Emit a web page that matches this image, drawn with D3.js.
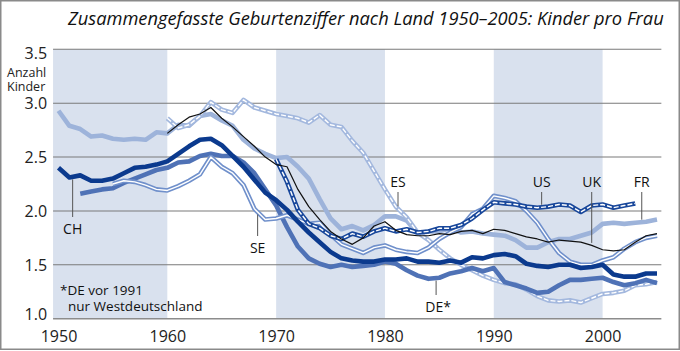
<!DOCTYPE html>
<html>
<head>
<meta charset="utf-8">
<script src="https://cdn.jsdelivr.net/npm/d3@7"></script>
<style>
  html, body { margin: 0; padding: 0; background: #fff; }
  svg { display: block; font-family: "Open Sans", sans-serif; }
</style>
</head>
<body>
<svg width="680" height="351"></svg>
<script>
// total fertility rate, children per woman
const years = [1950, 1951, 1952, 1953, 1954, 1955, 1956, 1957, 1958, 1959,
  1960, 1961, 1962, 1963, 1964, 1965, 1966, 1967, 1968, 1969,
  1970, 1971, 1972, 1973, 1974, 1975, 1976, 1977, 1978, 1979,
  1980, 1981, 1982, 1983, 1984, 1985, 1986, 1987, 1988, 1989,
  1990, 1991, 1992, 1993, 1994, 1995, 1996, 1997, 1998, 1999,
  2000, 2001, 2002, 2003, 2004, 2005];

// from 1950
const fr = [2.93, 2.79, 2.76, 2.69, 2.70, 2.67, 2.66, 2.67, 2.66, 2.73,
  2.72, 2.80, 2.79, 2.88, 2.90, 2.84, 2.79, 2.66, 2.58, 2.53,
  2.49, 2.50, 2.41, 2.30, 2.11, 1.93, 1.83, 1.86, 1.82, 1.87,
  1.95, 1.95, 1.91, 1.79, 1.81, 1.81, 1.84, 1.80, 1.81, 1.79,
  1.78, 1.77, 1.73, 1.66, 1.66, 1.71, 1.74, 1.74, 1.77, 1.80,
  1.88, 1.89, 1.88, 1.89, 1.90, 1.92];
// from 1950
const ch = [2.40, 2.31, 2.33, 2.28, 2.28, 2.30, 2.35, 2.40, 2.41, 2.43,
  2.46, 2.53, 2.60, 2.66, 2.67, 2.61, 2.51, 2.41, 2.29, 2.17,
  2.10, 2.01, 1.90, 1.80, 1.71, 1.62, 1.56, 1.54, 1.53, 1.53,
  1.55, 1.55, 1.56, 1.53, 1.53, 1.52, 1.54, 1.52, 1.57, 1.56,
  1.59, 1.60, 1.58, 1.51, 1.49, 1.48, 1.50, 1.50, 1.47, 1.48,
  1.50, 1.41, 1.39, 1.39, 1.42, 1.42];
// from 1952
const de = [2.16, 2.18, 2.20, 2.21, 2.26, 2.30, 2.34, 2.38,
  2.40, 2.45, 2.46, 2.51, 2.53, 2.51, 2.51, 2.45, 2.35, 2.20,
  2.05, 1.85, 1.67, 1.56, 1.51, 1.48, 1.50, 1.48, 1.49, 1.50,
  1.53, 1.51, 1.45, 1.40, 1.37, 1.38, 1.42, 1.44, 1.47, 1.44,
  1.47, 1.34, 1.31, 1.28, 1.24, 1.25, 1.31, 1.36, 1.36, 1.37,
  1.38, 1.34, 1.31, 1.33, 1.36, 1.33];
// from 1955
const se = [2.25, 2.28, 2.27, 2.24, 2.20,
  2.19, 2.23, 2.28, 2.34, 2.50, 2.41, 2.35, 2.24, 2.02, 1.92,
  1.93, 1.96, 1.92, 1.88, 1.89, 1.78, 1.69, 1.65, 1.61, 1.66,
  1.68, 1.64, 1.62, 1.61, 1.66, 1.74, 1.80, 1.85, 1.97, 2.02,
  2.14, 2.12, 2.09, 2.00, 1.89, 1.74, 1.61, 1.53, 1.50, 1.50,
  1.54, 1.57, 1.65, 1.71, 1.75, 1.77];
// from 1960
const es = [2.86, 2.77, 2.80, 2.88, 3.01, 2.94, 2.91, 3.03, 2.96, 2.93,
  2.90, 2.88, 2.86, 2.82, 2.89, 2.80, 2.78, 2.65, 2.54, 2.37,
  2.20, 2.04, 1.94, 1.80, 1.73, 1.64, 1.56, 1.50, 1.45, 1.40,
  1.36, 1.33, 1.32, 1.27, 1.21, 1.17, 1.16, 1.17, 1.15, 1.19,
  1.23, 1.24, 1.26, 1.31, 1.32, 1.34];
// from 1960
const uk = [2.72, 2.80, 2.87, 2.90, 2.96, 2.86, 2.78, 2.69, 2.60, 2.50,
  2.43, 2.41, 2.20, 2.04, 1.92, 1.81, 1.74, 1.69, 1.75, 1.86,
  1.90, 1.82, 1.78, 1.77, 1.77, 1.79, 1.78, 1.81, 1.82, 1.79,
  1.83, 1.82, 1.79, 1.76, 1.74, 1.71, 1.73, 1.72, 1.71, 1.68,
  1.64, 1.63, 1.64, 1.71, 1.77, 1.79];
// from 1970 to 2003
const us = [2.48, 2.27, 2.01, 1.88, 1.84, 1.77, 1.74, 1.79, 1.76, 1.81,
  1.84, 1.81, 1.83, 1.80, 1.81, 1.84, 1.84, 1.87, 1.93, 2.01,
  2.08, 2.07, 2.06, 2.04, 2.03, 2.04, 2.06, 2.05, 1.99, 2.05,
  2.06, 2.03, 2.05, 2.07];

const yTicks = [1.0, 1.5, 2.0, 2.5, 3.0, 3.5];
const xTicks = [1950, 1960, 1970, 1980, 1990, 2000];
const bands = [[1949.5, 1960], [1970, 1980], [1990, 2000]];

const svg = d3.select("svg");
const width = +svg.attr("width");
const height = +svg.attr("height");

const x = d3.scaleLinear().domain([1950, 2005]).range([58.5, 657]);
const y = d3.scaleLinear().domain([1, 3.5]).range([318.7, 49.3]);
const left = x(1949.5);
const right = x(2005.4);

const toPoints = (vals, start) =>
  vals.map((v, i) => ({ year: years[years.indexOf(start) + i], value: v }));

const series = [
  { key: "FR", data: toPoints(fr, 1950), color: "#9db3da", w: 4.6 },
  { key: "ES", data: toPoints(es, 1960), color: "#a3b8de", w: 4.6, inner: "5,2" },
  { key: "DE", data: toPoints(de, 1952), color: "#4f72b6", w: 4.6 },
  { key: "SE", data: toPoints(se, 1955), color: "#7090cb", w: 4.6, inner: "none" },
  { key: "CH", data: toPoints(ch, 1950), color: "#0b3a8e", w: 4.6 },
  { key: "US", data: toPoints(us, 1970), color: "#18479b", w: 4.6, inner: "5,2" },
  { key: "UK", data: toPoints(uk, 1960), color: "#111", w: 1.2 }
];

// frame
svg.append("rect")
  .attr("x", 0.75).attr("y", 0.75)
  .attr("width", width - 1.5).attr("height", height - 2.5)
  .attr("fill", "none").attr("stroke", "#8a8a8a").attr("stroke-width", 1.5);

// title, font size fitted to the reference width
const title = svg.append("text")
  .attr("x", 68).attr("y", 25)
  .style("font-size", "19px").style("font-style", "italic")
  .attr("fill", "#111")
  .text("Zusammengefasste Geburtenziffer nach Land 1950–2005: Kinder pro Frau");
const tw = title.node().getComputedTextLength();
title.style("font-size", (19 * 596 / tw).toFixed(2) + "px");

// shaded decades
svg.append("g").selectAll("rect").data(bands).join("rect")
  .attr("x", d => Math.max(left, x(d[0])))
  .attr("width", d => x(d[1]) - Math.max(left, x(d[0])))
  .attr("y", y(3.5)).attr("height", y(1) - y(3.5))
  .attr("fill", "#d9e1ee");

// grid
svg.append("g").selectAll("line").data(yTicks).join("line")
  .attr("x1", left).attr("x2", right)
  .attr("y1", d => y(d)).attr("y2", d => y(d))
  .attr("stroke", d => d === 1 ? "#8c8c8c" : "#7a7a7a")
  .attr("stroke-width", d => d === 1 ? 1.6 : 1.1);

// axes
const yAxis = svg.append("g")
  .attr("transform", `translate(${left},0)`)
  .call(d3.axisLeft(y).tickValues(yTicks).tickFormat(d3.format(".1f")).tickSize(0).tickPadding(6));
yAxis.select(".domain").remove();
yAxis.selectAll("text")
  .style("font-size", "16px").style("font-family", "'Open Sans', sans-serif")
  .attr("fill", "#222")
  .attr("dy", d => d === 3.5 ? "0.6em" : d === 1 ? "0.05em" : "0.33em");

const xAxis = svg.append("g")
  .attr("transform", `translate(0,${y(1)})`)
  .call(d3.axisBottom(x).tickValues(xTicks).tickFormat(d3.format("d")).tickSize(0).tickPadding(12));
xAxis.select(".domain").remove();
xAxis.selectAll("text")
  .style("font-size", "16px").style("font-family", "'Open Sans', sans-serif")
  .attr("fill", "#222");

// unit label
const unit = svg.append("text").attr("fill", "#222").style("font-size", "12.5px");
unit.append("tspan").attr("x", 7).attr("y", 77).text("Anzahl");
unit.append("tspan").attr("x", 7).attr("y", 91).text("Kinder");

// series
const line = d3.line().x(d => x(d.year)).y(d => y(d.value));
const lines = svg.append("g").attr("fill", "none")
  .attr("stroke-linejoin", "round").attr("stroke-linecap", "butt");
series.forEach(s => {
  lines.append("path").datum(s.data)
    .attr("d", line).attr("stroke", s.color).attr("stroke-width", s.w);
  if (s.inner) {
    lines.append("path").datum(s.data)
      .attr("d", line).attr("stroke", "#fff").attr("stroke-width", 1.4)
      .attr("stroke-dasharray", s.inner);
  }
});

// labels with leader lines
const valueAt = (key, yr) => {
  const d = series.find(s => s.key === key).data;
  const i = d3.bisector(p => p.year).left(d, yr);
  const a = d[i - 1], b = d[i];
  return a.value + (b.value - a.value) * (yr - a.year) / (b.year - a.year);
};
const labels = [
  { key: "CH", text: "CH", year: 1951.3, ty: 234, lead: 217, below: true },
  { key: "SE", text: "SE", year: 1968.3, ty: 253, lead: 236, below: true },
  { key: "DE", text: "DE*", year: 1984.7, ty: 312, lead: 295, below: true },
  { key: "ES", text: "ES", year: 1981.2, ty: 186.5, lead: 192, below: false },
  { key: "US", text: "US", year: 1994.4, ty: 186.5, lead: 192, below: false },
  { key: "UK", text: "UK", year: 1999.0, ty: 186.5, lead: 192, below: false },
  { key: "FR", text: "FR", year: 2003.6, ty: 186.5, lead: 192, below: false }
];
const lab = svg.append("g");
labels.forEach(l => {
  const ly = y(valueAt(l.key, l.year)) + (l.below ? 2.5 : -2.5);
  lab.append("line")
    .attr("x1", x(l.year)).attr("x2", x(l.year))
    .attr("y1", l.lead).attr("y2", ly)
    .attr("stroke", "#555").attr("stroke-width", 1);
  lab.append("text")
    .attr("x", x(l.year) + (l.text === "DE*" ? 2 : 0)).attr("y", l.ty)
    .attr("text-anchor", "middle")
    .style("font-size", "14px").attr("fill", "#111")
    .text(l.text);
});

// footnote
const note = svg.append("text").attr("fill", "#111").style("font-size", "13.5px");
note.append("tspan").attr("x", 60).attr("y", 295).text("*DE vor 1991");
note.append("tspan").attr("x", 68).attr("y", 311).text("nur Westdeutschland");
</script>
</body>
</html>
